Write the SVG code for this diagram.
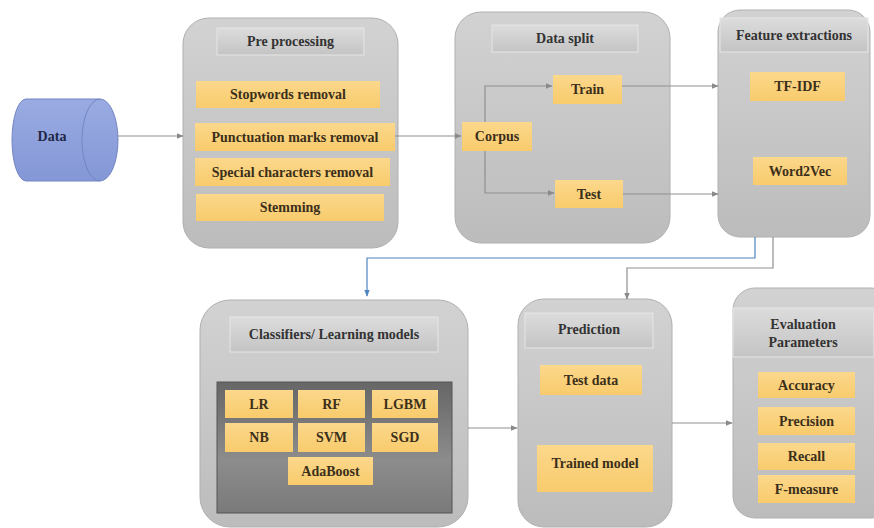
<svg xmlns="http://www.w3.org/2000/svg" width="874" height="528" viewBox="0 0 874 528">
<defs>
<linearGradient id="gCont" x1="0" y1="0" x2="0" y2="1">
<stop offset="0" stop-color="#d2d2d2"/><stop offset="1" stop-color="#bcbcbc"/>
</linearGradient>
<linearGradient id="gHead" x1="0" y1="0" x2="0" y2="1">
<stop offset="0" stop-color="#dcdcdc"/><stop offset="1" stop-color="#c4c4c4"/>
</linearGradient>
<linearGradient id="gOrange" x1="0" y1="0" x2="0" y2="1">
<stop offset="0" stop-color="#fcd88c"/><stop offset="1" stop-color="#f8cb6c"/>
</linearGradient>
<linearGradient id="gDark" x1="0" y1="0" x2="0" y2="1">
<stop offset="0" stop-color="#666666"/><stop offset="0.6" stop-color="#8c8c8c"/><stop offset="1" stop-color="#7a7a7a"/>
</linearGradient>
<linearGradient id="gCyl" x1="0" y1="0" x2="0" y2="1">
<stop offset="0" stop-color="#9aabe2"/><stop offset="1" stop-color="#8497d6"/>
</linearGradient>
<marker id="ag" viewBox="0 0 10 10" refX="9" refY="5" markerWidth="6" markerHeight="6" orient="auto">
<path d="M0,1 L10,5 L0,9 Z" fill="#8a8a8a"/>
</marker>
<marker id="ab" viewBox="0 0 10 10" refX="9" refY="5" markerWidth="6" markerHeight="6" orient="auto">
<path d="M0,1 L10,5 L0,9 Z" fill="#4f84c0"/>
</marker>
</defs>
<style>
.cont{fill:url(#gCont);stroke:#b0b0b0;stroke-width:1}
.head{fill:url(#gHead);stroke:#e6e6e6;stroke-width:1}
.or{fill:url(#gOrange);stroke:none}
.t{font-family:"Liberation Serif","Times New Roman",serif;font-weight:bold;font-size:14px;fill:#3b2f1a;text-anchor:middle;dominant-baseline:central}
.th{fill:#333333}
.cg{fill:none;stroke:#8f8f8f;stroke-width:1.2}
.cb{fill:none;stroke:#4f84c0;stroke-width:1.2}
</style>

<g id="data">
<path d="M26,99 H100 A18,41 0 0 1 100,181 H26 A14,41 0 0 1 26,99 Z" fill="url(#gCyl)" stroke="#7385c4" stroke-width="1"/>
<path d="M100,99 A18,41 0 0 0 100,181" fill="none" stroke="#7385c4" stroke-width="1"/>
<text class="t" x="52" y="136" style="fill:#1e2747">Data</text>
</g>

<g id="preprocessing">
<rect class="cont" x="183" y="18" width="215" height="230" rx="26"/>
<rect class="head" x="217" y="28" width="147" height="27"/>
<text class="t th" x="290.5" y="41.5">Pre processing</text>
<rect class="or" x="196" y="81" width="184" height="27"/>
<text class="t" x="288" y="94.5">Stopwords removal</text>
<rect class="or" x="195" y="123" width="200" height="28"/>
<text class="t" x="295" y="137">Punctuation marks removal</text>
<rect class="or" x="195" y="158" width="195" height="28"/>
<text class="t" x="292.5" y="172">Special characters removal</text>
<rect class="or" x="196" y="194" width="188" height="27"/>
<text class="t" x="290" y="207.5">Stemming</text>
</g>

<g id="datasplit">
<rect class="cont" x="455" y="12" width="215" height="231" rx="26"/>
<rect class="head" x="492" y="25" width="146" height="27"/>
<text class="t th" x="565" y="38.5">Data split</text>
<rect class="or" x="462" y="122" width="70" height="29"/>
<text class="t" x="497" y="136.5">Corpus</text>
<rect class="or" x="553" y="75" width="69" height="29"/>
<text class="t" x="587.5" y="89.5">Train</text>
<rect class="or" x="555" y="180" width="68" height="28"/>
<text class="t" x="589" y="194">Test</text>
</g>

<g id="features">
<rect class="cont" x="718" y="10" width="152" height="227" rx="22"/>
<rect class="head" x="720" y="18" width="148" height="34"/>
<text class="t th" x="794" y="35">Feature extractions</text>
<rect class="or" x="750" y="72" width="95" height="29"/>
<text class="t" x="797.5" y="86.5">TF-IDF</text>
<rect class="or" x="753" y="157" width="94" height="28"/>
<text class="t" x="800" y="171">Word2Vec</text>
</g>

<g id="classifiers">
<rect class="cont" x="200" y="300" width="268" height="227" rx="30"/>
<rect class="head" x="230" y="317" width="208" height="35"/>
<text class="t th" x="334" y="334.5">Classifiers/ Learning models</text>
<rect x="217" y="382" width="235" height="131" fill="url(#gDark)" stroke="#555" stroke-width="1"/>
<rect class="or" x="225" y="390" width="68" height="28"/>
<text class="t" x="259" y="404">LR</text>
<rect class="or" x="298" y="390" width="67" height="28"/>
<text class="t" x="331.5" y="404">RF</text>
<rect class="or" x="372" y="390" width="66" height="28"/>
<text class="t" x="405" y="404">LGBM</text>
<rect class="or" x="225" y="423" width="68" height="29"/>
<text class="t" x="259" y="437.5">NB</text>
<rect class="or" x="298" y="423" width="67" height="29"/>
<text class="t" x="331.5" y="437.5">SVM</text>
<rect class="or" x="372" y="423" width="66" height="29"/>
<text class="t" x="405" y="437.5">SGD</text>
<rect class="or" x="288" y="457" width="85" height="28"/>
<text class="t" x="330.5" y="471">AdaBoost</text>
</g>

<g id="prediction">
<rect class="cont" x="518" y="299" width="154" height="228" rx="26"/>
<rect class="head" x="525" y="313" width="128" height="35"/>
<text class="t th" x="589" y="329">Prediction</text>
<rect class="or" x="540" y="365" width="102" height="30"/>
<text class="t" x="591" y="380">Test data</text>
<rect class="or" x="537" y="445" width="116" height="47"/>
<text class="t" x="595" y="463">Trained model</text>
</g>

<g id="evaluation">
<rect class="cont" x="733" y="288" width="160" height="230" rx="22"/>
<rect class="head" x="733" y="308" width="141" height="49"/>
<text class="t th" x="803" y="324.5">Evaluation</text>
<text class="t th" x="803" y="342">Parameters</text>
<rect class="or" x="758" y="372" width="97" height="26"/>
<text class="t" x="806.5" y="385">Accuracy</text>
<rect class="or" x="758" y="407" width="97" height="28"/>
<text class="t" x="806.5" y="421">Precision</text>
<rect class="or" x="758" y="443" width="97" height="27"/>
<text class="t" x="806.5" y="456.5">Recall</text>
<rect class="or" x="758" y="475" width="97" height="28"/>
<text class="t" x="806.5" y="489">F-measure</text>
</g>

<g id="connectors">
<path class="cg" d="M118,136 H183" marker-end="url(#ag)"/>
<path class="cg" d="M395,136 H461" marker-end="url(#ag)"/>
<path class="cg" d="M485,122 V86 H552" marker-end="url(#ag)"/>
<path class="cg" d="M485,151 V193 H554" marker-end="url(#ag)"/>
<path class="cg" d="M622,86 H718" marker-end="url(#ag)"/>
<path class="cg" d="M623,194 H718" marker-end="url(#ag)"/>
<path class="cb" d="M755,237 V258 H367 V296" marker-end="url(#ab)"/>
<path class="cg" d="M773,237 V268 H627 V299" marker-end="url(#ag)"/>
<path class="cg" d="M468,428 H517" marker-end="url(#ag)"/>
<path class="cg" d="M672,423 H732" marker-end="url(#ag)"/>
</g>
</svg>
